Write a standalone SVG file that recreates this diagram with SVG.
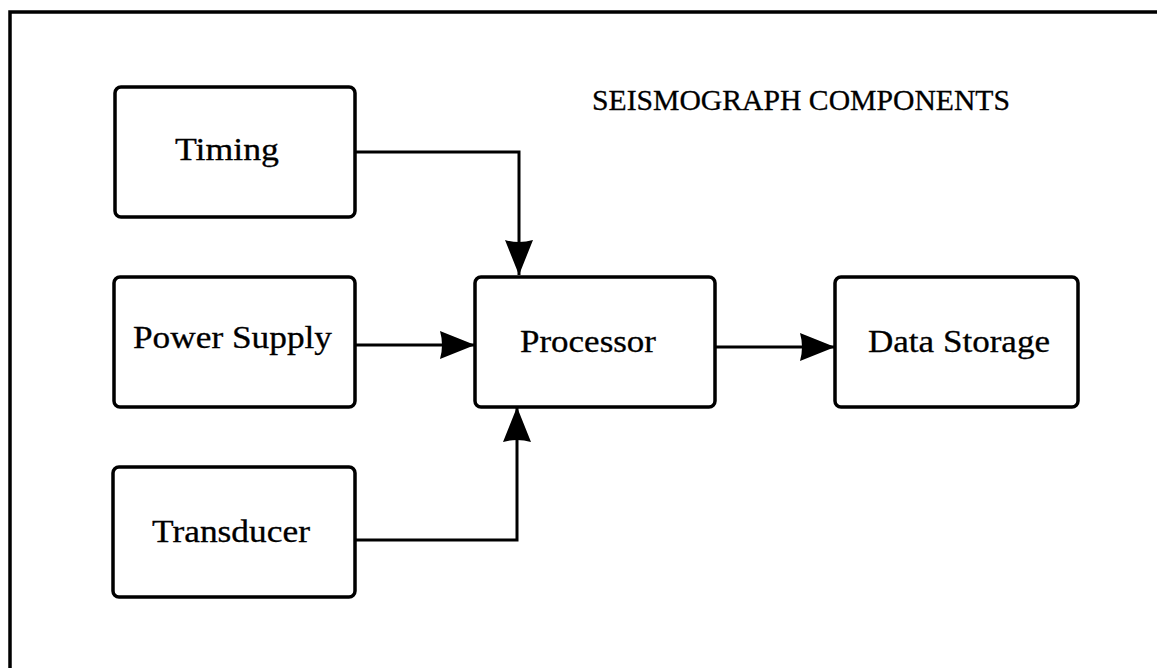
<svg xmlns="http://www.w3.org/2000/svg" width="1157" height="668" viewBox="0 0 1157 668">
  <style>
    .frame { fill: none; stroke: #000; stroke-width: 3.5; }
    .box { fill: #fff; stroke: #000; stroke-width: 3.5; }
    .wire { fill: none; stroke: #000; stroke-width: 3; }
    .label { font-family: "Liberation Serif", "Times New Roman", serif; font-size: 31px; fill: #000; stroke: #000; stroke-width: 0.3; }
    .title { font-family: "Liberation Serif", "Times New Roman", serif; font-size: 30px; fill: #000; stroke: #000; stroke-width: 0.3; }
  </style>
  <defs>
    <marker id="arrow" viewBox="0 0 36 30" refX="36" refY="15" markerWidth="36" markerHeight="30" markerUnits="userSpaceOnUse" orient="auto">
      <path d="M1,1 Q5,15 1,29 L36,15 Z" fill="#000"/>
    </marker>
  </defs>

  <rect width="1157" height="668" fill="#fff"/>

  <!-- open outer frame: top and left sides only -->
  <path class="frame" d="M10,668 L10,12 L1157,12"/>

  <text class="title" x="592" y="110" textLength="418" lengthAdjust="spacingAndGlyphs">SEISMOGRAPH COMPONENTS</text>

  <g id="connectors">
    <path class="wire" d="M355,152 L519,152 L519,275" marker-end="url(#arrow)"/>
    <path class="wire" d="M355,345 L475,345" marker-end="url(#arrow)"/>
    <path class="wire" d="M355,540 L517,540 L517,407" marker-end="url(#arrow)"/>
    <path class="wire" d="M715,347 L835,347" marker-end="url(#arrow)"/>
  </g>

  <g id="timing">
    <rect class="box" x="115" y="87" width="240" height="130" rx="6"/>
    <text class="label" x="175" y="160" textLength="104" lengthAdjust="spacingAndGlyphs">Timing</text>
  </g>

  <g id="power-supply">
    <rect class="box" x="114" y="277" width="241" height="130" rx="6"/>
    <text class="label" x="133" y="348" textLength="199" lengthAdjust="spacingAndGlyphs">Power Supply</text>
  </g>

  <g id="transducer">
    <rect class="box" x="113" y="467" width="242" height="130" rx="6"/>
    <text class="label" x="152" y="542" textLength="158" lengthAdjust="spacingAndGlyphs">Transducer</text>
  </g>

  <g id="processor">
    <rect class="box" x="475" y="277" width="240" height="130" rx="6"/>
    <text class="label" x="520" y="352" textLength="136" lengthAdjust="spacingAndGlyphs">Processor</text>
  </g>

  <g id="data-storage">
    <rect class="box" x="835" y="277" width="243" height="130" rx="6"/>
    <text class="label" x="868" y="352" textLength="182" lengthAdjust="spacingAndGlyphs">Data Storage</text>
  </g>
</svg>
